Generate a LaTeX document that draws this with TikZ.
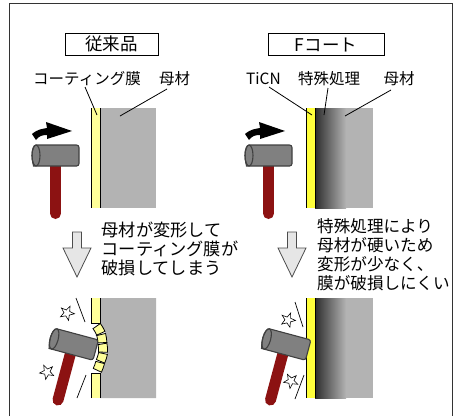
\documentclass[tikz,border=0pt]{standalone}
\usepackage{fontspec}
\setmainfont{Noto Sans CJK JP}
\definecolor{basegray}{RGB}{179,179,179}
\definecolor{paleyellow}{RGB}{255,255,153}
\definecolor{ticnyellow}{RGB}{255,255,60}
\definecolor{headgray}{RGB}{128,128,128}
\definecolor{handlered}{RGB}{140,18,18}
\definecolor{arrowfill}{RGB}{230,230,230}
% fixed line pitch for the multi-line captions
\newcommand\fixedpitch{\lineskiplimit=-100pt\relax\lineskip=0pt\relax}
\tikzset{
  frameline/.style={line width=1.3pt, draw=black!80},
  titlebox/.style={draw=black, line width=0.9pt, minimum width=#1, minimum height=22pt, inner sep=0pt, font=\fontsize{17.5}{20}\selectfont},
  label/.style={inner sep=0pt, font=\fontsize{15.5}{18}\selectfont},
  bodytext/.style={inner sep=0pt, align=left, anchor=base west,
    font=\fontsize{#1}{19}\selectfont\fixedpitch},
  leader/.style={line width=0.8pt, draw=black},
  edge/.style={line width=0.9pt, draw=black},
  downarrow/.style={fill=arrowfill, draw=black!70, line width=0.8pt},
  impact/.style={line width=0.7pt, draw=black},
  hammer/.pic={
    \draw[line width=11pt, line cap=round, handlered] (0,0) -- (0,58);
    \filldraw[fill=headgray, draw=black!75, line width=1.1pt, rounded corners=2.5pt]
      (-19.5,-10.5) -- (23.5,-10.5) -- (23.5,10.5) -- (-19.5,10.5)
      [sharp corners] arc (90:270:4 and 10.5) -- cycle;
    \draw[black!75, line width=1.1pt] (-19.5,0) ellipse (4 and 10.5);
  },
  swingarrow/.pic={
    \fill[black] (0,3) .. controls (6,-2) and (10,-2) .. (15,-3) -- (14,-9) -- (40,0)
      -- (15,8) -- (15,4) .. controls (10,4) and (7,5) .. (4,9) -- cycle;
  },
  spark/.pic={
    \filldraw[fill=white, draw=black, line width=0.6pt]
      (90:7.5) \foreach \k in {1,3,5,7,9} { -- ({90+36*\k}:3.1) -- ({90+36*(\k+1)}:7.5) } -- cycle;
  }
}
\begin{document}
\begin{tikzpicture}[x=1pt, y=-1pt]
\useasboundingbox (0,0) rectangle (454,416);

% outer frame, open at the bottom
\draw[frameline] (9.5,416) -- (9.5,3.5) -- (452.5,3.5) -- (452.5,416);

% ---------------- conventional coating ----------------
\node[titlebox=93pt] (titleL) at (111.5,44) {従来品};
\node[label] (coatL) at (87,79) {コーティング膜};
\node[label] (baseL) at (174.5,79) {母材};

% coated block before impact
\fill[basegray] (100,108) rectangle (156,208);
\fill[paleyellow] (91,108) rectangle (100,208);
\draw[edge] (91,108) -- (91,208);
\draw[edge] (100,108) -- (100,208);
\coordinate (coatLtip) at (97,115);
\coordinate (baseLtip) at (120,116);
\draw[leader] (85,87) -- (coatLtip);
\draw[leader] (167,89) -- (baseLtip);

\pic at (32,131) {swingarrow};
\pic at (55.5,155.5) {hammer};

% down arrow and explanation (anchored at the last line's baseline)
\filldraw[downarrow] (72.5,232) -- (81.5,232) -- (81.5,248) -- (91,248) -- (77,277)
  -- (63,248) -- (72.5,248) -- cycle;
\node[bodytext=17.2] (textL) at (101.5,274.5) {母材が変形して\\コーティング膜が\\破損してしまう};

% block after impact: dented base, broken coating
\coordinate (dentC) at (59,348);
\fill[basegray] (100,298) -- (156,298) -- (156,398) -- (100,398)
  -- ([shift={(dentC)}]31:48.5) arc (31:-31:48.5) -- cycle;
\fill[paleyellow] (91,298) rectangle (100,323);
\fill[paleyellow] (91,373) rectangle (100,398);
\draw[edge] (91,298) -- (91,323) -- (100,323) -- (100,298);
\draw[edge] (91,398) -- (91,373) -- (100,373) -- (100,398);
\foreach \i/\tilt in {0/5,1/-4,2/4,3/-5,4/5} {
  \pgfmathsetmacro{\aa}{-31+12.4*\i+0.8}
  \pgfmathsetmacro{\ab}{-31+12.4*(\i+1)-0.8}
  \pgfmathsetmacro{\am}{-31+12.4*\i+6.2}
  \begin{scope}[rotate around={\tilt:([shift={(dentC)}]\am:44)}]
    \filldraw[fill=paleyellow, draw=black, line width=0.8pt]
      ([shift={(dentC)}]\aa:39.5) -- ([shift={(dentC)}]\aa:48.5) arc (\aa:\ab:48.5)
      -- ([shift={(dentC)}]\ab:39.5) arc (\ab:\aa:39.5) -- cycle;
  \end{scope}
}
\pic[rotate=-15] at (73,344) {hammer};
\draw[impact] (76,298) -- (85,322);
\draw[impact] (86,375) -- (77,398);
\pic[rotate=12] at (67,313) {spark};
\pic[rotate=-10] at (47,372) {spark};

% ---------------- F-coat ----------------
\node[titlebox=116pt] (titleR) at (326,44.5) {Fコート};
\node[label] (ticnR) at (263.5,79) {TiCN};
\node[label] (treatR) at (329,79) {特殊処理};
\node[label] (baseR) at (399,79) {母材};

% coated block before impact: hardened graded layer
\shade[left color=black!82, right color=basegray] (315,108) rectangle (346,208);
\fill[basegray] (346,108) rectangle (373,208);
\fill[ticnyellow] (306,108) rectangle (315,208);
\draw[edge] (306,108) -- (306,208);
\draw[edge] (315,108) -- (315,208);
\coordinate (ticnRtip) at (312,115);
\coordinate (treatRtip) at (324,115);
\coordinate (baseRtip) at (345,116);
\draw[leader] (269,87) -- (ticnRtip);
\draw[leader] (328,88) -- (treatRtip);
\draw[leader] (391,90) -- (baseRtip);

\pic at (245,131) {swingarrow};
\pic at (268.5,155.5) {hammer};

\filldraw[downarrow] (287.5,232) -- (296.5,232) -- (296.5,248) -- (306,248) -- (292,277)
  -- (278,248) -- (287.5,248) -- cycle;
\node[bodytext=16.6] (textR) at (317,289) {特殊処理により\\母材が硬いため\\変形が少なく、\\膜が破損しにくい};

% block after impact: no damage
\shade[left color=black!82, right color=basegray] (315,298) rectangle (346,398);
\fill[basegray] (346,298) rectangle (373,398);
\fill[ticnyellow] (306,298) rectangle (315,398);
\draw[edge] (306,298) -- (306,398);
\draw[edge] (315,298) -- (315,398);
\pic[rotate=-15] at (285.5,344) {hammer};
\draw[impact] (295,302) -- (303,327);
\draw[impact] (304,375) -- (295,399);
\pic[rotate=15] at (288,320) {spark};
\pic[rotate=-8] at (291,381) {spark};
\end{tikzpicture}
\end{document}
